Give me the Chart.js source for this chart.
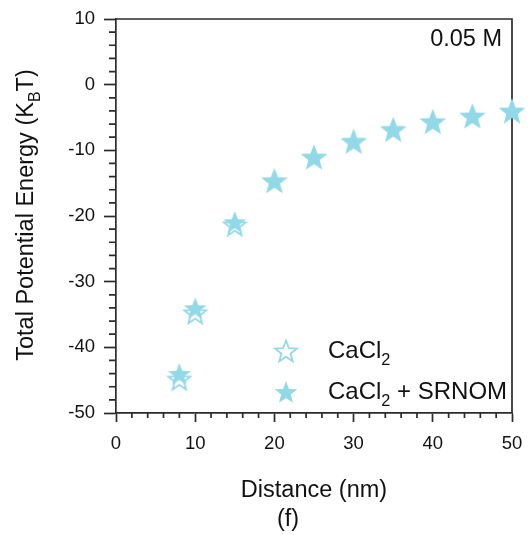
<!DOCTYPE html>
<html>
<head>
<meta charset="utf-8">
<script src="https://cdn.jsdelivr.net/npm/chart.js@4.4.0/dist/chart.umd.min.js"></script>
<style>
  html, body { margin: 0; padding: 0; background: #fff; }
  canvas { display: block; }
</style>
</head>
<body>
<canvas id="chart" width="529" height="535"></canvas>
<script>
// Data
const distance = [8, 10, 15, 20, 25, 30, 35, 40, 45, 50];
const cacl2 = [-45.0, -34.9, -21.5, -14.8, -11.2, -8.8, -7.0, -5.8, -4.95, -4.2];
const cacl2Srnom = [-44.2, -34.2, -21.1, -14.8, -11.2, -8.8, -7.0, -5.8, -4.95, -4.2];
const seriesLabels = ['CaCl_2', 'CaCl_2 + SRNOM'];
const xTicks = [0, 10, 20, 30, 40, 50];
const yTicks = [-50, -40, -30, -20, -10, 0, 10];

const FONT = "'Liberation Sans', Arial, sans-serif";
const INK = '#111';
const AXIS = '#2b2b2b';
const STAR = '#92d9e8';

// five point star as an image, so Chart.js can use it as pointStyle
function makeStar(r, filled) {
    const size = 30;
    const c = document.createElement('canvas');
    c.width = size; c.height = size;
    const g = c.getContext('2d');
    const cx = size / 2, cy = size / 2;
    g.beginPath();
    for (let i = 0; i < 10; i++) {
        const rad = i % 2 === 0 ? r : r * 0.42;
        const a = -Math.PI / 2 + i * Math.PI / 5;
        g.lineTo(cx + rad * Math.cos(a), cy + rad * Math.sin(a));
    }
    g.closePath();
    if (filled) {
        g.fillStyle = STAR;
        g.fill();
    } else {
        g.strokeStyle = STAR;
        g.lineWidth = 1.8;
        g.lineJoin = 'miter';
        g.stroke();
    }
    return c;
}
const hollowStar = makeStar(11.5, false);
const filledStar = makeStar(12, true);

// text with "_x" or "_{xx}" subscripts
function parseRich(text) {
    const parts = [];
    let i = 0, buf = '';
    while (i < text.length) {
        if (text[i] === '_') {
            if (buf) { parts.push({ t: buf, sub: false }); buf = ''; }
            if (text[i + 1] === '{') {
                const end = text.indexOf('}', i);
                parts.push({ t: text.slice(i + 2, end), sub: true });
                i = end + 1;
            } else {
                parts.push({ t: text[i + 1], sub: true });
                i += 2;
            }
        } else {
            buf += text[i];
            i++;
        }
    }
    if (buf) parts.push({ t: buf, sub: false });
    return parts;
}

function drawRich(ctx, text, x, y, size, align) {
    const parts = parseRich(text);
    const subSize = size * 0.68;
    let total = 0;
    parts.forEach(p => {
        ctx.font = (p.sub ? subSize : size) + 'px ' + FONT;
        p.w = ctx.measureText(p.t).width;
        total += p.w;
    });
    let cx = x;
    if (align === 'center') cx = x - total / 2;
    if (align === 'right') cx = x - total;
    ctx.textAlign = 'left';
    ctx.textBaseline = 'alphabetic';
    parts.forEach(p => {
        ctx.font = (p.sub ? subSize : size) + 'px ' + FONT;
        ctx.fillText(p.t, cx, p.sub ? y + size * 0.3 : y);
        cx += p.w;
    });
}

// frame, minor ticks, titles and legend
const decor = {
    id: 'decor',
    beforeDatasetsDraw(chart) {
        const { ctx, chartArea: a, scales } = chart;
        ctx.save();
        ctx.strokeStyle = AXIS;
        ctx.lineWidth = 1.7;
        ctx.beginPath();
        ctx.moveTo(a.left, a.top);
        ctx.lineTo(a.right, a.top);
        ctx.lineTo(a.right, a.bottom);
        ctx.stroke();
        // minor ticks every 2 units
        ctx.beginPath();
        for (let v = 2; v < 50; v += 2) {
            if (v % 10 === 0) continue;
            const px = scales.x.getPixelForValue(v);
            ctx.moveTo(px, a.bottom);
            ctx.lineTo(px, a.bottom + 5);
        }
        for (let v = -48; v < 10; v += 2) {
            if (v % 10 === 0) continue;
            const py = scales.y.getPixelForValue(v);
            ctx.moveTo(a.left, py);
            ctx.lineTo(a.left - 7, py);
        }
        ctx.stroke();
        ctx.restore();
    },
    afterDraw(chart) {
        const { ctx, chartArea: a } = chart;
        ctx.save();
        ctx.fillStyle = INK;
        drawRich(ctx, '0.05 M', a.right - 10, 46, 23.5, 'right');
        drawRich(ctx, 'Distance (nm)', 314, 497, 23.5, 'center');
        drawRich(ctx, '(f)', 288, 526, 23.5, 'center');
        ctx.translate(33, 215);
        ctx.rotate(-Math.PI / 2);
        drawRich(ctx, 'Total Potential Energy (K_BT)', 0, 0, 23.5, 'center');
        ctx.restore();

        // legend
        ctx.save();
        ctx.fillStyle = INK;
        const rows = [
            { img: hollowStar, y: 352, text: 0 },
            { img: filledStar, y: 393, text: 1 }
        ];
        rows.forEach(r => {
            ctx.drawImage(r.img, 286 - r.img.width / 2, r.y - r.img.height / 2);
            drawRich(ctx, chart.data.datasets[r.text].label, 328, r.y + 6, 24, 'left');
        });
        ctx.restore();
    }
};

const ctx = document.getElementById('chart').getContext('2d');
new Chart(ctx, {
    type: 'scatter',
    data: {
        datasets: [
            {
                label: seriesLabels[0],
                data: distance.map((d, i) => ({ x: d, y: cacl2[i] })),
                pointStyle: hollowStar,
                pointRadius: 12,
                order: 1,
                clip: false
            },
            {
                label: seriesLabels[1],
                data: distance.map((d, i) => ({ x: d, y: cacl2Srnom[i] })),
                pointStyle: filledStar,
                pointRadius: 12,
                order: 0,
                clip: false
            }
        ]
    },
    options: {
        responsive: false,
        animation: false,
        events: [],
        layout: { padding: { top: 19, right: 17, left: 0, bottom: 0 } },
        plugins: {
            legend: { display: false },
            tooltip: { enabled: false }
        },
        scales: {
            x: {
                type: 'linear',
                min: 0, max: 50,
                afterFit: s => { s.height = 122; s.paddingLeft = 0; s.paddingRight = 0; },
                afterBuildTicks: s => { s.ticks = xTicks.map(v => ({ value: v })); },
                border: { display: true, color: AXIS, width: 1.7 },
                grid: { drawOnChartArea: false, drawTicks: true, tickLength: 9, tickColor: AXIS, tickWidth: 1.7 },
                ticks: { color: INK, font: { family: FONT, size: 18.5 }, padding: 11, maxRotation: 0 }
            },
            y: {
                type: 'linear',
                min: -50, max: 10,
                afterFit: s => { s.width = 116; s.paddingTop = 0; s.paddingBottom = 0; },
                afterBuildTicks: s => { s.ticks = yTicks.map(v => ({ value: v })); },
                border: { display: true, color: AXIS, width: 1.7 },
                grid: { drawOnChartArea: false, drawTicks: true, tickLength: 12, tickColor: AXIS, tickWidth: 1.7 },
                ticks: { color: INK, font: { family: FONT, size: 18.5 }, padding: 9 }
            }
        }
    },
    plugins: [decor]
});
</script>
</body>
</html>
